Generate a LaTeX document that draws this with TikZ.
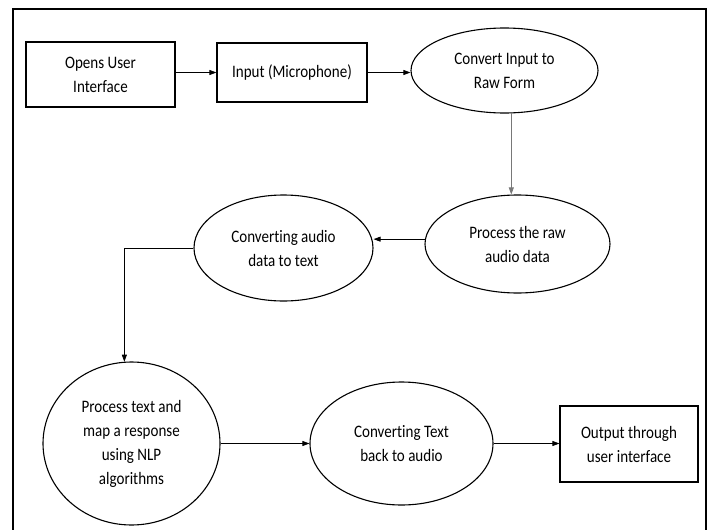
\documentclass[tikz,border=0pt]{standalone}
\usepackage{fontspec}
\setmainfont{Carlito}[FakeStretch=0.86, Ligatures=NoCommon]
\usepackage{tikz}
\usetikzlibrary{positioning, arrows.meta, shapes.geometric}
\definecolor{linegrey}{RGB}{120,120,120}

\begin{document}
\begin{tikzpicture}[x=1pt, y=-1pt,
    font=\fontsize{17.5}{24}\selectfont,
    stepbox/.style={draw, line width=1.1pt, inner sep=0pt, align=center},
    stepoval/.style={draw, ellipse, line width=1.1pt, inner sep=0pt, align=center},
    flow/.style={-{Triangle[length=7pt,width=5pt]}, line width=0.7pt}]
  \useasboundingbox (0,0) rectangle (715,530);
  % outer frame (bottom edge cut off)
  \draw[line width=1.4pt] (13,531) -- (13,9) -- (706,9) -- (706,531);

  % top row
  \node[stepbox, minimum width=149, minimum height=65] (open) at (100.5,74.5) {Opens User\\Interface};
  \node[stepbox, minimum width=150, minimum height=59] (input) at (292,72.5) {Input (Microphone)};
  \node[stepoval, minimum width=187, minimum height=85] (raw) at (504.5,70.5) {Convert Input to\\Raw Form};

  % middle row
  \node[stepoval, minimum width=185, minimum height=98] (proc) at (517.5,244) {Process the raw\\audio data};
  \node[stepoval, minimum width=179, minimum height=106] (conv) at (283.5,248) {Converting audio\\data to text};

  % bottom row
  \node[stepoval, minimum width=177, minimum height=163] (nlp) at (131.5,443.5) {Process text and\\map a response\\using NLP\\algorithms};
  \node[stepoval, minimum width=183, minimum height=123] (tts) at (401.5,443.5) {Converting Text\\back to audio};
  \node[stepbox, minimum width=138, minimum height=76] (out) at (629,444) {Output through\\user interface};

  % connectors
  \draw[flow] (input.west -| open.east) -- (input.west);
  \draw[flow] (input.east) -- (input.east -| raw.west);
  \draw[flow, linegrey] (raw.-81) -- (raw.-81 |- proc.north);
  \draw[flow] (proc.177) -- (proc.177 -| conv.east);
  \draw[flow] (conv.west) -| (nlp.95);
  \draw[flow] (nlp.east) -- (tts.west);
  \draw[flow] (tts.east) -- (tts.east -| out.west);
\end{tikzpicture}
\end{document}
